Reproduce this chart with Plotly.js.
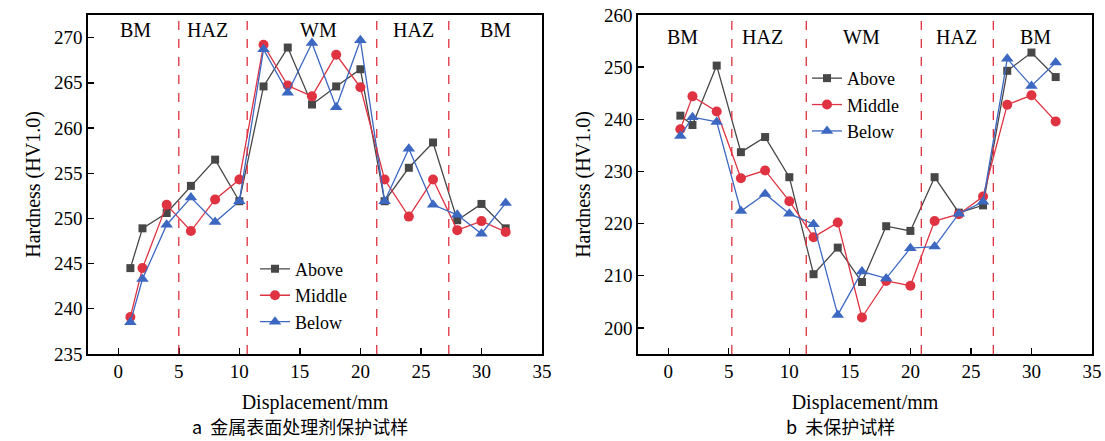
<!DOCTYPE html>
<html>
<head>
<meta charset="utf-8">
<script src="https://cdn.plot.ly/plotly-3.0.1.min.js"></script>
<style>body{margin:0;padding:0;background:#fff}#chart{width:1105px;height:441px}</style>
</head>
<body>
<div id="chart"></div>
<script>
const displacement = [1, 2, 4, 6, 8, 10, 12, 14, 16, 18, 20, 22, 24, 26, 28, 30, 32];

// (a) 金属表面处理剂保护试样
const aAbove  = [244.5, 248.9, 250.6, 253.6, 256.5, 251.9, 264.6, 268.9, 262.6, 264.6, 266.5, 251.9, 255.6, 258.4, 249.8, 251.6, 248.9];
const aMiddle = [239.1, 244.5, 251.5, 248.6, 252.1, 254.3, 269.2, 264.7, 263.5, 268.1, 264.5, 254.3, 250.2, 254.3, 248.7, 249.7, 248.5];
const aBelow  = [238.5, 243.3, 249.3, 252.3, 249.6, 251.9, 268.7, 263.9, 269.4, 262.3, 269.7, 251.9, 257.7, 251.5, 250.4, 248.3, 251.7];

// (b) 未保护试样
const bAbove  = [240.7, 238.9, 250.3, 233.7, 236.6, 228.9, 210.3, 215.4, 208.8, 219.5, 218.6, 228.9, 222.1, 223.5, 249.3, 252.8, 248.1];
const bMiddle = [238.1, 244.4, 241.5, 228.7, 230.2, 224.3, 217.4, 220.2, 202.0, 209.0, 208.1, 220.5, 221.8, 225.2, 242.8, 244.6, 239.6];
const bBelow  = [236.8, 240.4, 239.5, 222.4, 225.7, 221.9, 219.9, 202.5, 210.8, 209.5, 215.3, 215.6, 221.9, 224.2, 251.6, 246.4, 250.9];

const seriesNames = ["Above", "Middle", "Below"];
const zoneNames = ["BM", "HAZ", "WM", "HAZ", "BM"];
const aZoneBounds = [5.0, 10.65, 21.35, 27.3];
const bZoneBounds = [5.25, 11.4, 20.9, 26.85];
const aZoneCenters = [1.4, 7.4, 16.5, 24.4, 31.2];
const bZoneCenters = [1.2, 7.75, 16.0, 23.8, 30.3];
const xTicks = [0, 5, 10, 15, 20, 25, 30, 35];
const captions = ["a  金属表面处理剂保护试样", "b  未保护试样"];

const colors = ["#474747", "#df3342", "#3d68c2"];
const symbols = ["square", "circle", "triangle-up"];
const msizes = [8, 10, 11];
const FONT = "Liberation Serif, Times New Roman, serif";

// pixel helpers for the fixed page geometry
const W = 1105, PT = 15, PB = 354.5;
const px = v => v / W;
const py = v => (PB - v) / (PB - PT);

const traces = [];
[[aAbove, aMiddle, aBelow], [bAbove, bMiddle, bBelow]].forEach((set, k) => {
  set.forEach((vals, i) => {
    traces.push({
      x: displacement, y: vals, name: seriesNames[i],
      type: "scatter", mode: "lines+markers",
      xaxis: k === 0 ? "x" : "x2", yaxis: k === 0 ? "y" : "y2",
      legend: k === 0 ? "legend" : "legend2",
      line: {color: colors[i], width: 1.3},
      marker: {color: colors[i], symbol: symbols[i], size: msizes[i]}
    });
  });
});

const axisCommon = {
  showline: true, mirror: true, linecolor: "#000", linewidth: 1.6,
  ticks: "inside", ticklen: 6, tickwidth: 1.4, tickcolor: "#000",
  showgrid: false, zeroline: false,
  tickfont: {family: FONT, size: 19, color: "#000"}
};

const shapes = [];
[[aZoneBounds, "x", "y domain"], [bZoneBounds, "x2", "y2 domain"]].forEach(([bounds, xr, yr]) => {
  bounds.forEach(b => shapes.push({
    type: "line", xref: xr, yref: yr,
    x0: b, x1: b, y0: 0, y1: 1,
    line: {color: "#e0303f", width: 1.3, dash: "dash"}
  }));
});

const annotations = [];
zoneNames.forEach((z, i) => {
  annotations.push({x: aZoneCenters[i], y: 270.8, xref: "x", yref: "y", text: z, showarrow: false,
    font: {family: FONT, size: 20, color: "#000"}});
  annotations.push({x: bZoneCenters[i], y: 255.8, xref: "x2", yref: "y2", text: z, showarrow: false,
    font: {family: FONT, size: 20, color: "#000"}});
});
annotations.push({x: px(300), y: py(427), xref: "paper", yref: "paper", xanchor: "center", yanchor: "middle",
  text: captions[0], showarrow: false, font: {family: "Noto Sans CJK SC, serif", size: 18, color: "#000"}});
annotations.push({x: px(840), y: py(427), xref: "paper", yref: "paper", xanchor: "center", yanchor: "middle",
  text: captions[1], showarrow: false, font: {family: "Noto Sans CJK SC, serif", size: 18, color: "#000"}});

const titleFont = {family: FONT, size: 20, color: "#000"};
const layout = {
  width: 1105, height: 441,
  margin: {l: 0, r: 0, t: PT, b: 441 - PB},
  paper_bgcolor: "#fff", plot_bgcolor: "#fff",
  font: {family: FONT, color: "#000"},
  showlegend: true,
  xaxis: Object.assign({}, axisCommon, {domain: [px(88), px(542)], range: [-2.5, 35], tickvals: xTicks,
    title: {text: "Displacement/mm", font: titleFont, standoff: 13}, anchor: "y"}),
  yaxis: Object.assign({}, axisCommon, {range: [235, 272.5], dtick: 5, anchor: "x",
    title: {text: "Hardness (HV1.0)", font: titleFont, standoff: 8}}),
  xaxis2: Object.assign({}, axisCommon, {domain: [px(638), px(1092)], range: [-2.5, 35], tickvals: xTicks,
    title: {text: "Displacement/mm", font: titleFont, standoff: 13}, anchor: "y2"}),
  yaxis2: Object.assign({}, axisCommon, {range: [195, 260], dtick: 10, anchor: "x2",
    title: {text: "Hardness (HV1.0)", font: titleFont, standoff: 8}}),
  legend: {x: px(255), y: py(251), xanchor: "left", yanchor: "top", bgcolor: "rgba(0,0,0,0)",
    font: {family: FONT, size: 18, color: "#000"}, tracegroupgap: 0, itemwidth: 30},
  legend2: {x: px(807), y: py(60), xanchor: "left", yanchor: "top", bgcolor: "rgba(0,0,0,0)",
    font: {family: FONT, size: 18, color: "#000"}, tracegroupgap: 0, itemwidth: 30},
  shapes: shapes,
  annotations: annotations
};

Plotly.newPlot("chart", traces, layout, {staticPlot: true, displayModeBar: false});
</script>
</body>
</html>
